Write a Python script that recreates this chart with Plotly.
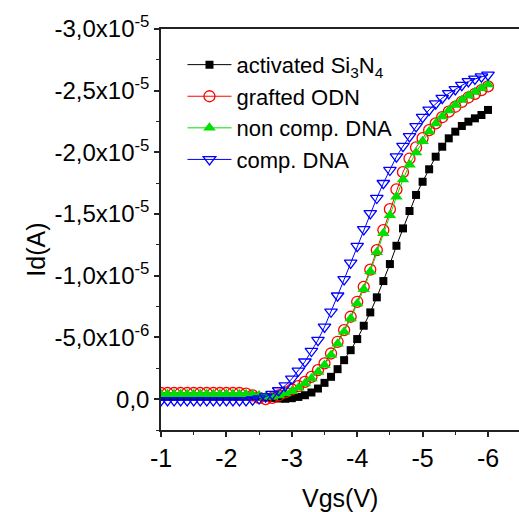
import plotly.graph_objects as go
import numpy as np

# Gate voltage (V)
vgs = [-1.0, -1.1, -1.2, -1.3, -1.4, -1.5, -1.6, -1.7, -1.8, -1.9,
       -2.0, -2.1, -2.2, -2.3, -2.4, -2.5, -2.6, -2.7, -2.8, -2.9,
       -3.0, -3.1, -3.2, -3.3, -3.4, -3.5, -3.6, -3.7, -3.8, -3.9,
       -4.0, -4.1, -4.2, -4.3, -4.4, -4.5, -4.6, -4.7, -4.8, -4.9,
       -5.0, -5.1, -5.2, -5.3, -5.4, -5.5, -5.6, -5.7, -5.8, -5.9, -6.0]

# Drain current in units of 1e-5 A
id_activated = [-0.02, -0.02, -0.02, -0.02, -0.02, -0.02, -0.02, -0.02, -0.02, -0.02,
                -0.02, -0.02, -0.02, -0.02, -0.02, -0.02, -0.015, -0.01, -0.005, -0.003,
                -0.008, -0.018, -0.032, -0.054, -0.086, -0.132, -0.181, -0.243, -0.316, -0.397,
                -0.487, -0.595, -0.703, -0.825, -0.957, -1.095, -1.243, -1.384, -1.525, -1.655,
                -1.762, -1.863, -1.965, -2.046, -2.114, -2.168, -2.214, -2.249, -2.276, -2.303, -2.344]

id_grafted = [-0.05, -0.05, -0.05, -0.05, -0.05, -0.05, -0.05, -0.05, -0.05, -0.05,
              -0.05, -0.05, -0.05, -0.045, -0.03, -0.01, 0.0, -0.01, -0.03, -0.055,
              -0.079, -0.105, -0.14, -0.18, -0.235, -0.29, -0.37, -0.465, -0.56, -0.668,
              -0.789, -0.91, -1.05, -1.208, -1.37, -1.54, -1.70, -1.84, -1.95, -2.04,
              -2.115, -2.18, -2.235, -2.285, -2.33, -2.37, -2.41, -2.445, -2.475, -2.505, -2.535]

id_noncomp = [-0.04, -0.04, -0.04, -0.04, -0.04, -0.04, -0.04, -0.04, -0.04, -0.04,
              -0.04, -0.04, -0.04, -0.04, -0.035, -0.03, -0.02, -0.02, -0.03, -0.045,
              -0.065, -0.092, -0.127, -0.168, -0.22, -0.276, -0.357, -0.45, -0.546, -0.654,
              -0.776, -0.89, -1.035, -1.19, -1.344, -1.49, -1.64, -1.78, -1.90, -2.0,
              -2.09, -2.17, -2.235, -2.29, -2.34, -2.385, -2.425, -2.46, -2.49, -2.52, -2.55]

id_comp = [0.01, 0.01, 0.01, 0.01, 0.01, 0.01, 0.01, 0.01, 0.01, 0.01,
           0.01, 0.01, 0.01, 0.01, 0.005, -0.005, -0.02, -0.04, -0.07, -0.11,
           -0.165, -0.23, -0.303, -0.39, -0.478, -0.586, -0.708, -0.838, -0.97, -1.105,
           -1.24, -1.376, -1.506, -1.63, -1.75, -1.857, -1.965, -2.05, -2.13, -2.21,
           -2.285, -2.345, -2.395, -2.44, -2.478, -2.51, -2.545, -2.575, -2.595, -2.614, -2.628]

series_names = ["activated Si<sub>3</sub>N<sub>4</sub>", "grafted ODN", "non comp. DNA", "comp. DNA"]

y_tickvals = [0.0, -0.5e-5, -1.0e-5, -1.5e-5, -2.0e-5, -2.5e-5, -3.0e-5]
y_ticktext = ["0,0", "-5,0x10<sup>-6</sup>", "-1,0x10<sup>-5</sup>", "-1,5x10<sup>-5</sup>",
              "-2,0x10<sup>-5</sup>", "-2,5x10<sup>-5</sup>", "-3,0x10<sup>-5</sup>"]
x_tickvals = [-1, -2, -3, -4, -5, -6]
x_ticktext = ["-1", "-2", "-3", "-4", "-5", "-6"]

scale = 1e-5
FONT = "Liberation Sans, Arial, sans-serif"

styles = [
    dict(color="#000000", symbol="square", size=8, line=dict(width=0)),
    dict(color="#FF0000", symbol="circle-open", size=11, line=dict(width=1.3)),
    dict(color="#00E000", symbol="triangle-up", size=11, line=dict(width=0)),
    dict(color="#0000FF", symbol="triangle-down-open", size=11, line=dict(width=1.3)),
]
line_colors = ["#000000", "#FF0000", "#00E000", "#0000FF"]

fig = go.Figure()
for i, (name, vals) in enumerate(zip(series_names, [id_activated, id_grafted, id_noncomp, id_comp])):
    fig.add_trace(go.Scatter(
        x=vgs, y=np.array(vals) * scale, name=name,
        mode="lines+markers",
        line=dict(color=line_colors[i], width=1),
        marker=styles[i],
        legendgroup=str(i),
    ))

fig.update_layout(
    width=519, height=512,
    margin=dict(l=161, r=0, t=29, b=82),
    paper_bgcolor="white", plot_bgcolor="white",
    font=dict(family=FONT, size=21, color="black"),
    showlegend=True,
    legend=dict(x=0.06, y=0.963, xanchor="left", yanchor="top",
                bgcolor="rgba(0,0,0,0)", font=dict(size=22, family=FONT),
                itemwidth=44, tracegroupgap=0),
    xaxis=dict(range=[-1, -6.474], showgrid=False, zeroline=False,
               showline=True, linecolor="#222222", linewidth=1.5, mirror=True,
               ticks="outside", ticklen=5, tickwidth=1.5, tickcolor="#222222",
               tickmode="array", tickvals=x_tickvals, ticktext=x_ticktext,
               tickfont=dict(size=25, family=FONT),
               minor=dict(ticks="outside", ticklen=3, tickwidth=1, dtick=0.5, tick0=-1, tickcolor="#222222")),
    yaxis=dict(range=[0.25e-5, -3.0e-5], showgrid=False, zeroline=False,
               showline=True, linecolor="#222222", linewidth=1.5, mirror=False,
               ticks="outside", ticklen=5, tickwidth=1.5, tickcolor="#222222",
               tickmode="array", tickvals=y_tickvals, ticktext=y_ticktext,
               tickfont=dict(size=24, family=FONT),
               minor=dict(ticks="outside", ticklen=3, tickwidth=1, dtick=0.25e-5, tick0=0, tickcolor="#222222")),
    annotations=[
        dict(text="Id(A)", xref="paper", yref="paper", x=-0.35, y=0.449,
             xanchor="center", yanchor="middle", textangle=-90, showarrow=False,
             font=dict(size=25, family=FONT)),
        dict(text="Vgs(V)", xref="paper", yref="paper", x=0.5, y=-0.17,
             xanchor="center", yanchor="middle", showarrow=False,
             font=dict(size=25, family=FONT)),
    ],
)

fig.write_html("out.html")
